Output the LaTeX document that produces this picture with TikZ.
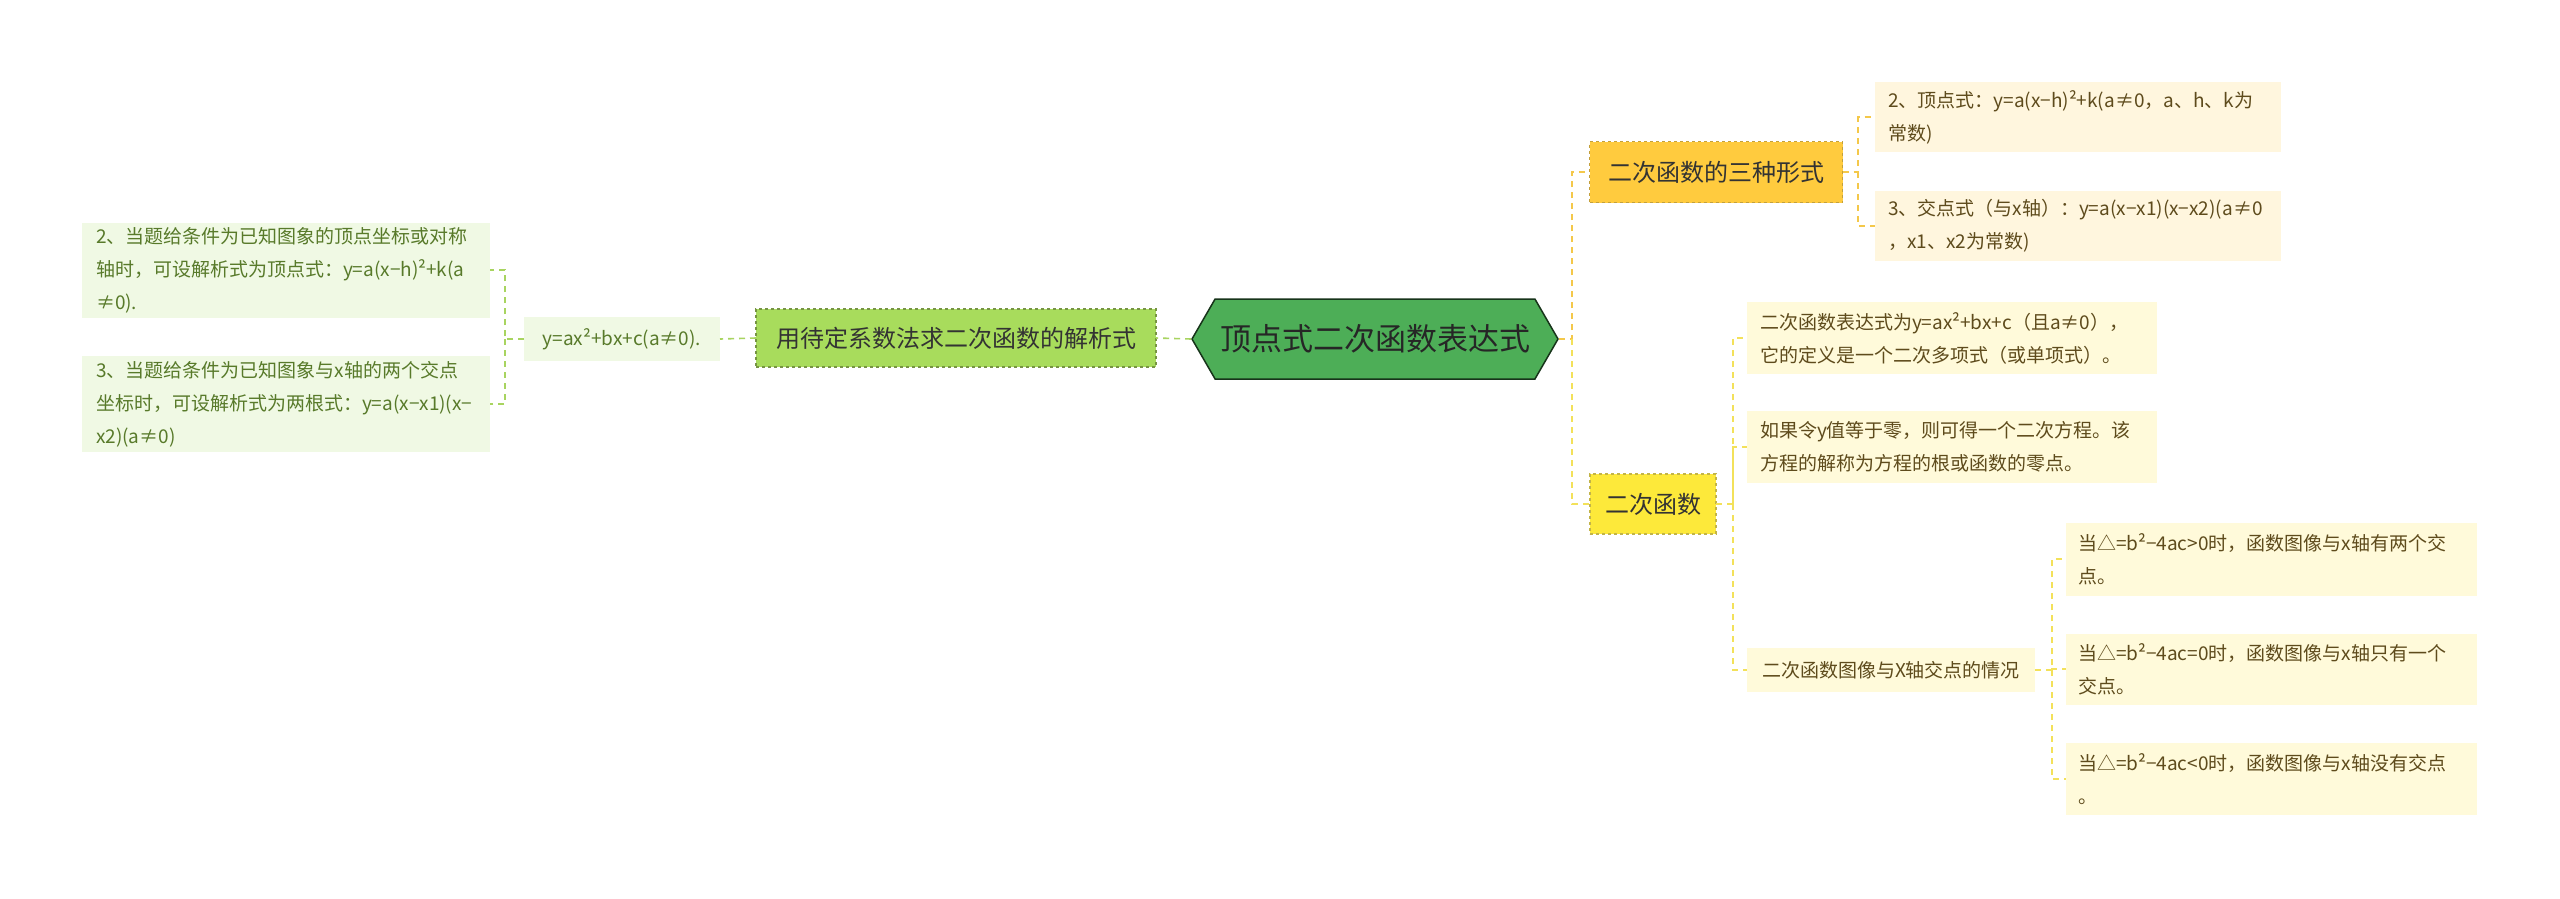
\documentclass[tikz,border=0pt]{standalone}
\usepackage{fontspec}
\setmainfont{Noto Sans CJK SC}
\usetikzlibrary{shapes.symbols}
\definecolor{cgreen}{HTML}{4DAE57}
\definecolor{lgreen}{HTML}{A8DC5C}
\definecolor{pgreen}{HTML}{F0F9E4}
\definecolor{tgreen}{HTML}{587A2A}
\definecolor{corange}{HTML}{FFCB3E}
\definecolor{porange}{HTML}{FFF6DE}
\definecolor{cyellow}{HTML}{FDE93A}
\definecolor{pyellow}{HTML}{FFFADA}
\definecolor{tbrown}{HTML}{5E4B1C}
\definecolor{lnorange}{HTML}{F4C84A}
\definecolor{lnyellow}{HTML}{F3E15A}
\definecolor{lngreen}{HTML}{A8D460}
\tikzset{
 box/.style={inner sep=0pt,outer sep=0pt,align=left},
 leaf/.style={box,font=\fontsize{19}{33}\selectfont},
 gleaf/.style={leaf,fill=pgreen,text=tgreen},
 oleaf/.style={leaf,fill=porange,text=tbrown},
 yleaf/.style={leaf,fill=pyellow,text=tbrown},
 lk/.style={dashed,line width=1.6pt,dash pattern=on 6pt off 5pt},
}
\begin{document}
\begin{tikzpicture}[x=1pt,y=-1pt]
\useasboundingbox (0,0) rectangle (2560,898);
\fill[white] (0,0) rectangle (2560,898);
% central
\node[signal,signal to=west and east,signal pointer angle=120,fill=cgreen,draw=black!70!cgreen,line width=1.5pt,minimum width=366pt,minimum height=80pt,inner sep=0pt,font=\fontsize{31}{36}\selectfont,text=black!85] (c) at (1375,339) {顶点式二次函数表达式};
% left
\node[box,fill=lgreen,draw=lngreen!70!black,dashed,line width=1.2pt,minimum width=400pt,minimum height=58pt,align=center,font=\fontsize{24}{28}\selectfont,text=black!80] (lm) at (956,338) {用待定系数法求二次函数的解析式};
\node[gleaf,minimum width=196pt,minimum height=44pt,align=center] (f) at (622,339) {y=ax²+bx+c(a≠0).};
\node[gleaf,minimum width=408pt,minimum height=95pt,text width=380pt] (l1) at (286,270) {2、当题给条件为已知图象的顶点坐标或对称\\轴时，可设解析式为顶点式：y=a(x−h)²+k(a\\≠0).};
\node[gleaf,minimum width=408pt,minimum height=96pt,text width=380pt] (l2) at (286,404) {3、当题给条件为已知图象与x轴的两个交点\\坐标时，可设解析式为两根式：y=a(x−x1)(x−\\x2)(a≠0)};
% right orange
\node[box,fill=corange,draw=lnorange!80!black,dashed,line width=1.2pt,minimum width=253pt,minimum height=61pt,align=center,font=\fontsize{24}{28}\selectfont,text=black!80] (o) at (1716,172) {二次函数的三种形式};
\node[oleaf,minimum width=406pt,minimum height=70pt,text width=380pt] (r1) at (2078,117) {2、顶点式：y=a(x−h)²+k(a≠0，a、h、k为\\常数)};
\node[oleaf,minimum width=406pt,minimum height=70pt,text width=380pt] (r2) at (2078,226) {3、交点式（与x轴）：y=a(x−x1)(x−x2)(a≠0\\，x1、x2为常数)};
% right yellow
\node[box,fill=cyellow,draw=lnyellow!80!black,dashed,line width=1.2pt,minimum width=126pt,minimum height=60pt,align=center,font=\fontsize{24}{28}\selectfont,text=black!80] (y) at (1653,504) {二次函数};
\node[yleaf,minimum width=410pt,minimum height=72pt,text width=384pt] (y1) at (1952,338) {二次函数表达式为y=ax²+bx+c（且a≠0），\\它的定义是一个二次多项式（或单项式）。};
\node[yleaf,minimum width=410pt,minimum height=72pt,text width=384pt] (y2) at (1952,447) {如果令y值等于零，则可得一个二次方程。该\\方程的解称为方程的根或函数的零点。};
\node[yleaf,minimum width=288pt,minimum height=44pt,align=center] (y3) at (1891,670) {二次函数图像与X轴交点的情况};
\node[yleaf,minimum width=411pt,minimum height=73pt,text width=386pt] (d1) at (2271,559) {当△=b²−4ac>0时，函数图像与x轴有两个交\\点。};
\node[yleaf,minimum width=411pt,minimum height=71pt,text width=386pt] (d2) at (2271,669) {当△=b²−4ac=0时，函数图像与x轴只有一个\\交点。};
\node[yleaf,minimum width=411pt,minimum height=72pt,text width=386pt] (d3) at (2271,779) {当△=b²−4ac<0时，函数图像与x轴没有交点\\。};
% connectors
\draw[lk,draw=lngreen] (c.west) -- (lm.east);
\draw[lk,draw=lngreen] (lm.west) -- (f.east);
\draw[lk,draw=lngreen] (f.west) -- (505,339) |- (l1.east);
\draw[lk,draw=lngreen] (505,339) |- (l2.east);
\draw[lk,draw=lnorange] (c.east) -- (1572,339) |- (o.west);
\draw[lk,draw=lnyellow] (1572,339) |- (y.west);
\draw[lk,draw=lnorange] (o.east) -- (1858,172) |- (r1.west);
\draw[lk,draw=lnorange] (1858,172) |- (r2.west);
\draw[lk,draw=lnyellow] (y.east) -- (1733,504) |- (y1.west);
\draw[lk,draw=lnyellow] (1733,504) |- (y2.west);
\draw[lk,draw=lnyellow] (1733,504) |- (y3.west);
\draw[lk,draw=lnyellow] (y3.east) -- (2052,670) |- (d1.west);
\draw[lk,draw=lnyellow] (2052,670) |- (d2.west);
\draw[lk,draw=lnyellow] (2052,670) |- (d3.west);
\end{tikzpicture}
\end{document}
